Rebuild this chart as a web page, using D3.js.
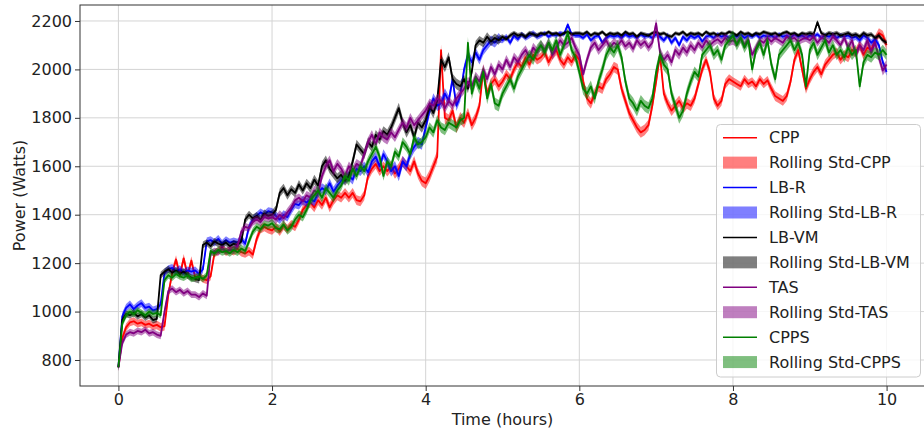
<!DOCTYPE html>
<html><head><meta charset="utf-8">
<script src="https://cdn.jsdelivr.net/npm/d3@7"></script>
<style>
html,body{margin:0;padding:0;background:#fff;}
svg{display:block;font-family:"DejaVu Sans",sans-serif;}
</style></head><body>
<svg id="chart" width="924" height="434"></svg>
<script>
// Time samples every 0.05 h (0 .. 10 h)
const timeStep = 0.05;
const hours = d3.range(201).map(i => +(i * timeStep).toFixed(2));

const cpp = [
770, 890, 935, 955, 960, 950, 955, 945, 950, 940,
945, 935, 940, 1070, 1160, 1215, 1150, 1220, 1150, 1210,
1140, 1150, 1135, 1130, 1145, 1240, 1250, 1265, 1245, 1255,
1250, 1260, 1245, 1240, 1250, 1235, 1300, 1340, 1350, 1340,
1335, 1350, 1330, 1355, 1340, 1360, 1350, 1380, 1420, 1440,
1450, 1430, 1460, 1440, 1470, 1430, 1460, 1480, 1470, 1490,
1470, 1490, 1460, 1455, 1480, 1560, 1590, 1610, 1580, 1600,
1580, 1600, 1570, 1590, 1620, 1600, 1580, 1620, 1570, 1540,
1530, 1560, 1600, 1640, 2080, 1800, 1790, 1830, 1760, 1800,
1780, 1820, 1770, 1800, 1850, 2000, 1900, 1940, 1960, 1930,
1950, 1980, 1960, 2000, 2030, 2010, 2050, 2020, 2060, 2040,
2050, 2070, 2030, 2060, 2080, 2040, 2020, 2050, 2030, 2060,
2040, 1950, 1880, 1860, 1900, 1930, 1920, 1960, 1980, 2010,
2000, 1920, 1870, 1820, 1790, 1760, 1740, 1750, 1770, 1850,
1950, 2060, 1900, 1860, 1830, 1850, 1870, 1840, 1860, 1850,
1880, 1940, 2000, 2040, 1990, 1880, 1850, 1870, 1940, 1960,
1950, 1940, 1930, 1960, 1940, 1950, 1930, 1960, 1940, 1955,
1920, 1890, 1880, 1870, 1890, 1950, 2040, 2080, 2000, 1920,
1960, 1990, 2010, 1980, 2020, 2040, 2060, 2070, 2040, 2060,
2050, 2080, 2070, 2100, 2060, 2090, 2080, 2120, 2150, 2140,
2100];

const lbR = [
770, 980, 1015, 1030, 1010, 1025, 1035, 1015, 1020, 1005,
1010, 1030, 1160, 1175, 1180, 1165, 1175, 1160, 1170, 1165,
1170, 1155, 1175, 1290, 1295, 1285, 1300, 1280, 1295, 1285,
1290, 1285, 1300, 1280, 1350, 1380, 1395, 1410, 1400, 1415,
1410, 1395, 1380, 1400, 1390, 1420, 1445, 1440, 1460, 1450,
1465, 1455, 1490, 1510, 1500, 1530, 1495, 1520, 1540, 1550,
1560, 1545, 1590, 1580, 1600, 1575, 1620, 1640, 1600, 1650,
1620, 1580, 1600, 1560, 1620, 1600, 1650, 1680, 1700, 1690,
1760, 1830, 1880, 1850, 1860, 1900, 1870, 1960, 1850, 1890,
2000, 2060, 2030, 2070, 2040, 2080, 2100, 2120, 2110, 2130,
2120, 2135, 2110, 2140, 2125, 2145, 2130, 2140, 2150, 2135,
2140, 2150, 2135, 2145, 2140, 2150, 2145, 2185, 2145, 2140,
2140, 2130, 2145, 2120, 2135, 2140, 2110, 2130, 2140, 2135,
2140, 2130, 2145, 2135, 2140, 2130, 2145, 2135, 2140, 2130,
2145, 2135, 2120, 2140, 2110, 2130, 2100, 2135, 2120, 2140,
2130, 2140, 2115, 2135, 2140, 2130, 2145, 2135, 2140, 2130,
2140, 2135, 2145, 2130, 2140, 2135, 2145, 2130, 2140, 2135,
2140, 2130, 2145, 2135, 2140, 2130, 2145, 2135, 2140, 2130,
2140, 2135, 2145, 2130, 2140, 2135, 2145, 2130, 2140, 2135,
2140, 2130, 2135, 2120, 2140, 2130, 2110, 2125, 2100, 2030,
1990];

const lbVM = [
770, 965, 990, 985, 995, 980, 990, 975, 985, 965,
970, 1150, 1165, 1175, 1160, 1170, 1155, 1165, 1150, 1140,
1135, 1130, 1275, 1285, 1270, 1290, 1280, 1275, 1285, 1270,
1280, 1275, 1290, 1380, 1400, 1385, 1395, 1380, 1405, 1395,
1400, 1420, 1490, 1510, 1480, 1505, 1490, 1525, 1500, 1530,
1510, 1545, 1520, 1600, 1625, 1590, 1570, 1550, 1565, 1540,
1560, 1620, 1690, 1670, 1650, 1700, 1680, 1730, 1710, 1745,
1730, 1760, 1800, 1840, 1780, 1740, 1770, 1720, 1780, 1760,
1790, 1850, 1820, 1870, 2040, 2010, 2050, 1960, 1940, 1930,
1960, 1920, 1990, 2100, 2120, 2110, 2135, 2115, 2130, 2120,
2135, 2125, 2140, 2150, 2140, 2145, 2135, 2150, 2145, 2140,
2150, 2145, 2155, 2145, 2150, 2140, 2150, 2155, 2145, 2150,
2150, 2145, 2155, 2140, 2150, 2145, 2155, 2140, 2150, 2145,
2150, 2140, 2155, 2145, 2150, 2135, 2150, 2145, 2140, 2150,
2155, 2145, 2150, 2140, 2135, 2150, 2145, 2155, 2140, 2150,
2145, 2150, 2140, 2155, 2145, 2150, 2140, 2150, 2145, 2155,
2150, 2140, 2155, 2145, 2150, 2140, 2150, 2145, 2155, 2150,
2145, 2150, 2140, 2150, 2155, 2145, 2150, 2140, 2150, 2145,
2150, 2145, 2195, 2150, 2140, 2150, 2145, 2150, 2140, 2145,
2150, 2140, 2145, 2135, 2150, 2140, 2145, 2130, 2140, 2120,
2110];

const tas = [
770, 870, 905, 915, 910, 920, 915, 925, 910, 915,
905, 900, 1000, 1085, 1095, 1080, 1090, 1075, 1085, 1070,
1070, 1060, 1075, 1065, 1240, 1250, 1245, 1260, 1250, 1255,
1255, 1270, 1330, 1350, 1345, 1370, 1380, 1370, 1390, 1385,
1390, 1380, 1400, 1385, 1410, 1430, 1460, 1470, 1455, 1480,
1470, 1500, 1490, 1560, 1600, 1625, 1580, 1610, 1590, 1560,
1600, 1580, 1610, 1600, 1650, 1700, 1730, 1690, 1740, 1720,
1710, 1740, 1720, 1750, 1780, 1760, 1800, 1770, 1790, 1810,
1830, 1860, 1850, 1880, 1870, 1840, 1870, 1850, 1880, 1900,
1920, 1950, 1930, 1970, 1950, 2000, 1960, 2010, 1980, 2020,
2000, 2040, 2010, 2050, 2030, 2060, 2080, 2050, 2090, 2070,
2100, 2080, 2110, 2060, 2090, 2120, 2100, 2110, 2130, 2090,
2060, 1980, 2040, 2090, 2110, 2080, 2100, 2120, 2090, 2110,
2100, 2120, 2095, 2110, 2085, 2120, 2100, 2115, 2090, 2110,
2190, 2070, 2040, 2060, 2030, 2080, 2060, 2090, 2070, 2100,
2080, 2110, 2090, 2120, 2100, 2115, 2125, 2110, 2130, 2115,
2120, 2110, 2130, 2100, 2125, 2060, 2090, 2120, 2110, 2130,
2115, 2130, 2120, 2110, 2135, 2125, 2130, 2115, 2125, 2130,
2120, 2135, 2110, 2130, 2125, 2110, 2135, 2120, 2100, 2130,
2090, 2120, 2060, 2100, 2080, 2120, 2070, 2110, 2050, 1995,
2020];

const cpps = [
770, 950, 985, 1000, 990, 1005, 995, 985, 1000, 990,
995, 985, 1130, 1150, 1140, 1155, 1145, 1140, 1150, 1135,
1140, 1145, 1135, 1150, 1250, 1240, 1255, 1245, 1250, 1240,
1255, 1245, 1260, 1250, 1290, 1330, 1350, 1340, 1360, 1355,
1365, 1345, 1340, 1360, 1335, 1350, 1380, 1400, 1390, 1420,
1460, 1480, 1500, 1470, 1510, 1490, 1470, 1500, 1520, 1560,
1540, 1590, 1560, 1600, 1580, 1620, 1650, 1680, 1640, 1560,
1620, 1600, 1660, 1640, 1700, 1680, 1650, 1720, 1690, 1700,
1720, 1760, 1740, 1790, 1760, 1750, 1780, 1770, 1760, 1790,
1800, 2110, 1900, 1960, 1920, 1990, 1880, 1940, 1860, 1850,
1900, 1930, 1960, 1920, 1970, 2000, 2030, 2060, 2040, 2080,
2100, 2070, 2110, 2080, 2120, 2060, 2100, 2150, 2080, 2050,
1990, 1920, 1900, 1930, 1880, 1950, 2000, 2060, 2090, 2070,
2100, 2050, 1950, 1880, 1860, 1830, 1870, 1850, 1840, 1880,
1990, 2060, 2020, 2000, 1900, 1850, 1800, 1830, 1900, 1950,
1990, 1970, 2060, 2080, 2100, 2060, 2080, 2040, 2100, 2120,
2140, 2100, 2130, 2090, 2120, 2000, 2080, 2110, 2060, 2120,
2020, 1960, 2060, 2080, 2100, 2120, 2080, 2110, 2060, 1930,
2080, 2110, 2060, 2090, 2120, 2070, 2100, 2060, 2080, 2050,
2090, 2060, 2080, 1930, 2030, 2060, 2050, 2070, 2060, 2080,
2060];

// Rolling standard deviation, one value per half hour block
const stdCPP  = [16, 18, 16, 18, 18, 20, 20, 22, 24, 22, 20, 20, 22, 22, 22, 20, 18, 20, 20, 20, 20];
const stdLBR  = [16, 16, 16, 16, 18, 20, 20, 22, 22, 20, 12, 10, 10, 10, 12, 10, 10, 10, 10, 14, 16];
const stdLBVM = [14, 14, 14, 16, 18, 20, 20, 22, 22, 18, 10, 8, 8, 8, 8, 8, 8, 8, 10, 10, 10];
const stdTAS  = [14, 14, 14, 16, 18, 20, 20, 20, 20, 20, 20, 20, 20, 18, 20, 18, 18, 16, 16, 20, 20];
const stdCPPS = [14, 14, 14, 16, 18, 20, 20, 20, 22, 24, 22, 22, 24, 24, 24, 22, 22, 22, 22, 22, 22];

const seriesNames  = ["CPP", "LB-R", "LB-VM", "TAS", "CPPS"];
const seriesColors = ["#ff0000", "#0000ff", "#000000", "#800080", "#008000"];
const xTicks = [0, 2, 4, 6, 8, 10];
const yTicks = [800, 1000, 1200, 1400, 1600, 1800, 2000, 2200];
const xLabel = "Time (hours)";
const yLabel = "Power (Watts)";

const seriesValues = [cpp, lbR, lbVM, tas, cpps];
const seriesStd = [stdCPP, stdLBR, stdLBVM, stdTAS, stdCPPS];
const series = seriesNames.map((name, k) => ({
  name, color: seriesColors[k],
  pts: hours.map((h, i) => ({ h, v: seriesValues[k][i], s: seriesStd[k][Math.floor(i / 10)] }))
}));

const svg = d3.select("#chart");
const L = 80, R = 925, T = 5, B = 386;
const x = d3.scaleLinear().domain([-0.5, 10.5]).range([L, R]);
const y = d3.scaleLinear().domain([692.6, 2266]).range([B, T]);

// grid
const grid = svg.append("g");
grid.selectAll("line.gx").data(xTicks).join("line")
  .attr("x1", d => x(d)).attr("x2", d => x(d)).attr("y1", T).attr("y2", B)
  .attr("stroke", "#d4d4d4").attr("stroke-width", 1);
grid.selectAll("line.gy").data(yTicks).join("line")
  .attr("x1", L).attr("x2", R).attr("y1", d => y(d)).attr("y2", d => y(d))
  .attr("stroke", "#d4d4d4").attr("stroke-width", 1);

svg.append("clipPath").attr("id", "clip").append("rect")
  .attr("x", L).attr("y", T).attr("width", R - L).attr("height", B - T);

const plot = svg.append("g").attr("clip-path", "url(#clip)");
const line = d3.line().x(d => x(d.h)).y(d => y(d.v));
const area = d3.area().x(d => x(d.h)).y0(d => y(d.v - d.s)).y1(d => y(d.v + d.s));

series.forEach(s => {
  plot.append("path").datum(s.pts).attr("d", area)
    .attr("fill", s.color).attr("fill-opacity", 0.5).attr("stroke", "none");
  plot.append("path").datum(s.pts).attr("d", line)
    .attr("fill", "none").attr("stroke", s.color).attr("stroke-width", 1.8)
    .attr("stroke-linejoin", "round");
});

// axes
const xAxis = svg.append("g").attr("transform", `translate(0,${B})`)
  .call(d3.axisBottom(x).tickValues(xTicks).tickFormat(d3.format("d")).tickSize(5).tickPadding(3));
const yAxis = svg.append("g").attr("transform", `translate(${L},0)`)
  .call(d3.axisLeft(y).tickValues(yTicks).tickFormat(d3.format("d")).tickSize(5).tickPadding(3));
[xAxis, yAxis].forEach(a => {
  a.select(".domain").remove();
  a.selectAll("text").attr("font-size", 16).attr("fill", "#222").attr("font-family", "DejaVu Sans");
  a.selectAll("line").attr("stroke", "#333");
});

// spines
svg.append("rect").attr("x", L).attr("y", T).attr("width", R - L).attr("height", B - T)
  .attr("fill", "none").attr("stroke", "#333").attr("stroke-width", 1);

// labels
svg.append("text").attr("x", (L + R) / 2).attr("y", 425).attr("text-anchor", "middle")
  .attr("font-size", 16).attr("fill", "#222").text(xLabel);
svg.append("text").attr("transform", `translate(25,${(T + B) / 2}) rotate(-90)`)
  .attr("text-anchor", "middle").attr("font-size", 16).attr("fill", "#222").text(yLabel);

// legend
const lg = svg.append("g");
lg.append("rect").attr("x", 716.5).attr("y", 124.5).attr("width", 204).attr("height", 252.5)
  .attr("rx", 4).attr("fill", "#fff").attr("fill-opacity", 0.8).attr("stroke", "#cccccc");
const entries = [];
series.forEach(s => {
  entries.push({ type: "line", label: s.name, color: s.color });
  entries.push({ type: "patch", label: "Rolling Std-" + s.name, color: s.color });
});
entries.forEach((e, k) => {
  const cy = 137.7 + k * 24.93;
  if (e.type === "line") {
    lg.append("line").attr("x1", 723).attr("x2", 757).attr("y1", cy).attr("y2", cy)
      .attr("stroke", e.color).attr("stroke-width", 1.5);
  } else {
    lg.append("rect").attr("x", 723).attr("y", cy - 6).attr("width", 34).attr("height", 12)
      .attr("fill", e.color).attr("fill-opacity", 0.5);
  }
  lg.append("text").attr("x", 769).attr("y", cy).attr("dy", "0.35em")
    .attr("font-size", 16).attr("fill", "#222").text(e.label);
});
</script>
</body></html>
